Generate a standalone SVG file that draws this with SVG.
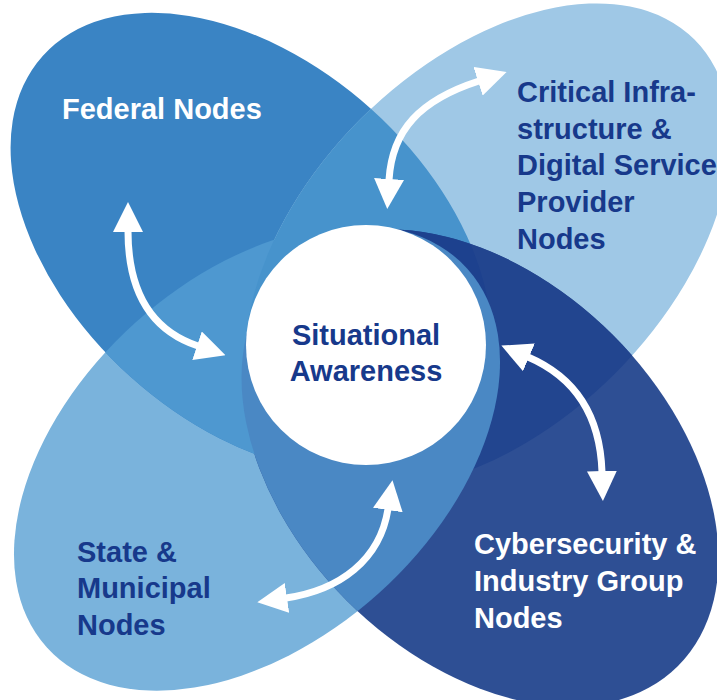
<svg xmlns="http://www.w3.org/2000/svg" xmlns:xlink="http://www.w3.org/1999/xlink" width="717" height="700" viewBox="0 0 717 700">
<style>
  .lbl{font-family:"Liberation Sans",Arial,Helvetica,sans-serif;font-weight:bold;font-size:29px}
  .w{fill:#ffffff}
  .n{fill:#17398b}
  .arrow{fill:none;stroke:#ffffff;stroke-width:7;marker-start:url(#head);marker-end:url(#head)}
</style>
<defs>
  <ellipse id="eF" cx="251" cy="243" rx="280" ry="180" transform="rotate(42 251 243)"/>
  <ellipse id="eCr" cx="488" cy="246" rx="292" ry="180" transform="rotate(-45 488 246)"/>
  <ellipse id="eCy" cx="480" cy="468" rx="280" ry="188" transform="rotate(45 480 468)"/>
  <ellipse id="eS" cx="257" cy="458" rx="283" ry="182" transform="rotate(-42 257 458)"/>
  <clipPath id="cF"><use xlink:href="#eF"/></clipPath>
  <clipPath id="cCr"><use xlink:href="#eCr"/></clipPath>
  <clipPath id="cS"><use xlink:href="#eS"/></clipPath>
  <marker id="head" viewBox="0 0 30 30" markerUnits="userSpaceOnUse" markerWidth="30" markerHeight="30" refX="1" refY="15" orient="auto-start-reverse">
    <path d="M0,0 L30,15 L0,30 z" fill="#ffffff"/>
  </marker>
</defs>
<rect width="717" height="700" fill="#ffffff"/>

<g id="node-state">
  <use xlink:href="#eS" fill="#7ab3dc"/>
</g>
<g id="node-federal">
  <use xlink:href="#eF" fill="#3a84c4"/>
</g>
<g id="node-critical">
  <use xlink:href="#eCr" fill="#9fc8e6"/>
</g>
<g id="node-cyber">
  <use xlink:href="#eCy" fill="#2e4f94"/>
</g>

<g id="overlaps">
  <use xlink:href="#eF" fill="#4e98d0" clip-path="url(#cS)"/>
  <use xlink:href="#eF" fill="#4793cc" clip-path="url(#cCr)"/>
  <use xlink:href="#eCy" fill="#22458f" clip-path="url(#cCr)"/>
  <g clip-path="url(#cF)"><use xlink:href="#eCy" fill="#1d418e" clip-path="url(#cCr)"/></g>
  <use xlink:href="#eCy" fill="#4a88c4" clip-path="url(#cS)"/>
</g>

<g id="labels">
  <text class="lbl w" x="62" y="119">Federal Nodes</text>
  <text class="lbl n" x="517" y="102">Critical Infra-</text>
  <text class="lbl n" x="517" y="139">structure &amp;</text>
  <text class="lbl n" x="517" y="175">Digital Service</text>
  <text class="lbl n" x="517" y="212">Provider</text>
  <text class="lbl n" x="517" y="249">Nodes</text>
  <text class="lbl n" x="77" y="562">State &amp;</text>
  <text class="lbl n" x="77" y="598">Municipal</text>
  <text class="lbl n" x="77" y="635">Nodes</text>
  <text class="lbl w" x="474" y="554">Cybersecurity &amp;</text>
  <text class="lbl w" x="474" y="591">Industry Group</text>
  <text class="lbl w" x="474" y="628">Nodes</text>
</g>

<g id="node-center">
  <circle cx="366" cy="345" r="120" fill="#ffffff"/>
  <text class="lbl n" x="366" y="345" text-anchor="middle">Situational</text>
  <text class="lbl n" x="366" y="381" text-anchor="middle">Awareness</text>
</g>

<g id="connectors">
  <path class="arrow" d="M128,231 C128,290 150,330 198,346"/>
  <path class="arrow" d="M389,180 C392,130 420,100 479,81"/>
  <path class="arrow" d="M528,357 C570,375 600,410 602,472"/>
  <path class="arrow" d="M388,509 C380,560 340,590 286,598"/>
</g>
</svg>
